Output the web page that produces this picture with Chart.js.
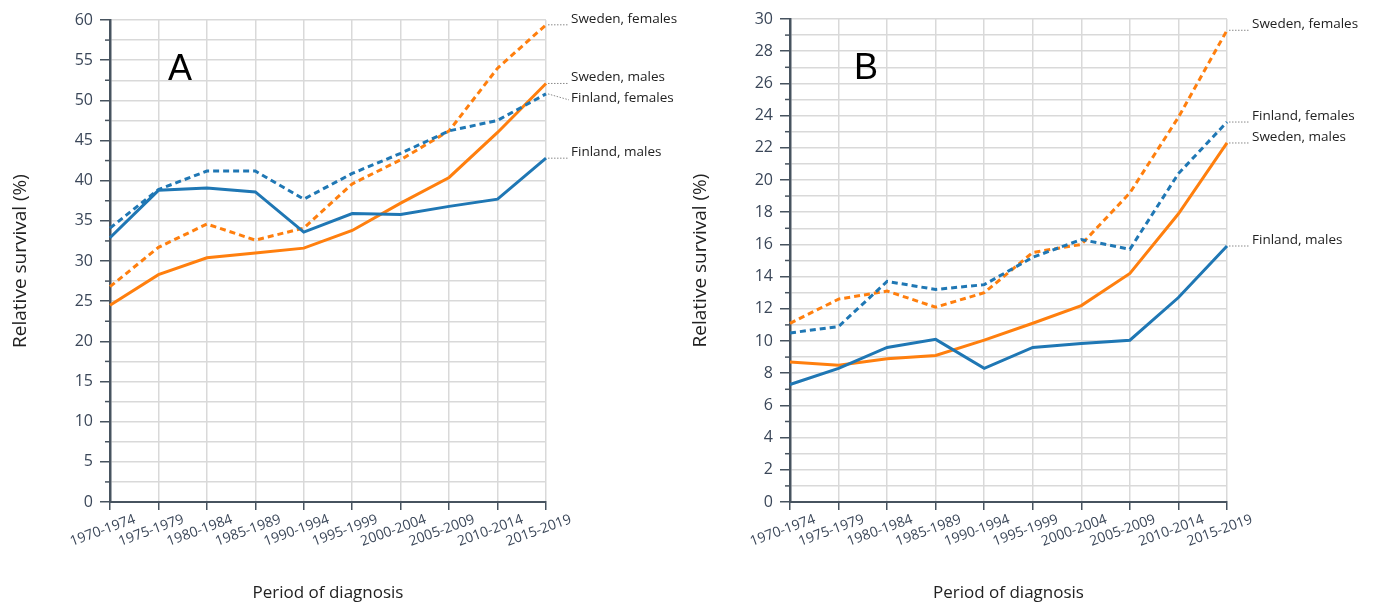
<!DOCTYPE html>
<html>
<head>
<meta charset="utf-8">
<script src="https://cdn.jsdelivr.net/npm/chart.js@4"></script>
<style>
  body { margin: 0; background: #fff; }
  canvas { position: absolute; top: 0; }
  #chartA { left: 0; }
  #chartB { left: 680px; }
</style>
</head>
<body>
<canvas id="chartA" width="680" height="606"></canvas>
<canvas id="chartB" width="695" height="606"></canvas>
<script>
// Períodos de diagnóstico
const periods = ["1970-1974", "1975-1979", "1980-1984", "1985-1989", "1990-1994",
  "1995-1999", "2000-2004", "2005-2009", "2010-2014", "2015-2019"];

const seriesNames = ["Finland, males", "Finland, females", "Sweden, males", "Sweden, females"];

// Painel A
const finlandMalesA = [32.9, 38.8, 39.1, 38.6, 33.6, 35.9, 35.8, 36.8, 37.7, 42.8];
const finlandFemalesA = [34.1, 38.9, 41.2, 41.2, 37.7, 40.9, 43.4, 46.2, 47.5, 50.8];
const swedenMalesA = [24.5, 28.3, 30.4, 31.0, 31.6, 33.8, 37.2, 40.4, 46.0, 52.1];
const swedenFemalesA = [26.8, 31.7, 34.6, 32.6, 34.1, 39.6, 42.6, 46.2, 54.0, 59.4];

// Painel B
const finlandMalesB = [7.3, 8.3, 9.6, 10.1, 8.3, 9.6, 9.85, 10.05, 12.7, 15.9];
const finlandFemalesB = [10.5, 10.9, 13.7, 13.2, 13.5, 15.2, 16.3, 15.7, 20.4, 23.6];
const swedenMalesB = [8.7, 8.5, 8.9, 9.1, 10.05, 11.1, 12.2, 14.2, 17.9, 22.3];
const swedenFemalesB = [11.1, 12.6, 13.1, 12.1, 13.0, 15.5, 16.0, 19.2, 23.9, 29.3];

const BLUE = "#1f77b4";
const ORANGE = "#ff7f0e";
const AXIS = "#47535f";
const GRID = "#d9d9d9";
const TICK_TEXT = "#3b4759";
const FONT = "'Open Sans', 'Noto Sans', sans-serif";

// Plugin: ticks menores, letra do painel e rótulos das séries
const extrasPlugin = {
  id: "extras",
  afterDraw(chart, args, opts) {
    const { ctx, chartArea } = chart;
    const y = chart.scales.y;
    ctx.save();

    ctx.strokeStyle = AXIS;
    ctx.lineWidth = 1.5;
    y.ticks.forEach((t, i) => {
      if (Math.abs(t.value % opts.major) > 1e-6) {
        const py = y.getPixelForTick(i);
        ctx.beginPath();
        ctx.moveTo(chartArea.left - 5, py);
        ctx.lineTo(chartArea.left, py);
        ctx.stroke();
      }
    });

    ctx.font = "36px 'Liberation Sans', Arial, sans-serif";
    ctx.fillStyle = "#000";
    ctx.textAlign = "center";
    ctx.textBaseline = "middle";
    ctx.fillText(opts.letter, chartArea.left + opts.letterDx, chartArea.top + 50);

    ctx.font = "13.5px " + FONT;
    ctx.textAlign = "left";
    chart.data.datasets.forEach((ds, i) => {
      const meta = chart.getDatasetMeta(i);
      const pt = meta.data[meta.data.length - 1];
      const shift = opts.shifts[i];
      ctx.strokeStyle = "#8a8a8a";
      ctx.lineWidth = 1;
      ctx.setLineDash([1.5, 1.5]);
      ctx.beginPath();
      ctx.moveTo(pt.x + 2, pt.y);
      ctx.lineTo(pt.x + 23, pt.y + shift.leader);
      ctx.stroke();
      ctx.setLineDash([]);
      ctx.fillStyle = "#222";
      ctx.fillText(ds.label, pt.x + 25, pt.y + shift.text);
    });
    ctx.restore();
  },
};

function criarPainel(canvasId, values, yMax, yStep, yMajor, letter, letterDx, padRight, padTop, shifts) {
  const estilos = [
    { color: BLUE, dash: [] },
    { color: BLUE, dash: [6, 4] },
    { color: ORANGE, dash: [] },
    { color: ORANGE, dash: [6, 4] },
  ];
  return new Chart(document.getElementById(canvasId), {
    type: "line",
    data: {
      labels: periods,
      datasets: values.map((v, i) => ({
        label: seriesNames[i],
        data: v,
        borderColor: estilos[i].color,
        borderDash: estilos[i].dash,
        borderWidth: 3,
        pointRadius: 0,
        tension: 0,
        fill: false,
      })),
    },
    options: {
      responsive: false,
      animation: false,
      layout: { autoPadding: false, padding: { left: 0, right: padRight, top: padTop, bottom: 0 } },
      plugins: {
        legend: { display: false },
        tooltip: { enabled: false },
        extras: { major: yMajor, letter: letter, letterDx: letterDx, shifts: shifts },
      },
      scales: {
        x: {
          type: "category",
          offset: false,
          afterFit: (s) => { s.height = 104; },
          grid: { color: GRID, lineWidth: 1.5, offset: false, tickLength: 8, tickColor: AXIS, tickWidth: 1.5 },
          border: { color: AXIS, width: 2 },
          ticks: {
            autoSkip: false, minRotation: 20, maxRotation: 20, labelOffset: 25, padding: 1,
            color: TICK_TEXT, font: { family: FONT, size: 14 },
          },
          title: {
            display: true, text: "Period of diagnosis", color: "#222",
            font: { family: FONT, size: 17 }, padding: { top: 0, bottom: 3 },
          },
        },
        y: {
          min: 0,
          max: yMax,
          afterFit: (s) => { s.width = 110; },
          grid: {
            color: GRID, lineWidth: 1.5, tickLength: 10, tickWidth: 1.5,
            tickColor: (c) => (c.tick && Math.abs(c.tick.value % yMajor) < 1e-6 ? AXIS : "transparent"),
          },
          border: { color: AXIS, width: 2.5 },
          ticks: {
            stepSize: yStep, autoSkip: false, padding: 7,
            color: TICK_TEXT, font: { family: FONT, size: 16 },
            callback: (v) => (Math.abs(v % yMajor) < 1e-6 ? v : ""),
          },
          title: {
            display: true, text: "Relative survival (%)", color: "#222",
            font: { family: FONT, size: 19 }, padding: { top: 9, bottom: 0 },
          },
        },
      },
    },
    plugins: [extrasPlugin],
  });
}

document.addEventListener("DOMContentLoaded", () => {
  criarPainel("chartA",
    [finlandMalesA, finlandFemalesA, swedenMalesA, swedenFemalesA],
    60, 2.5, 5, "A", 70, 134, 20,
    [{ leader: 0, text: -6 }, { leader: 6, text: 4 }, { leader: 0, text: -6 }, { leader: 0, text: -6 }]);

  criarPainel("chartB",
    [finlandMalesB, finlandFemalesB, swedenMalesB, swedenFemalesB],
    30, 1, 2, "B", 76, 148, 19,
    [{ leader: 0, text: -6 }, { leader: 0, text: -6 }, { leader: 0, text: -6 }, { leader: 0, text: -6 }]);
});
</script>
</body>
</html>
